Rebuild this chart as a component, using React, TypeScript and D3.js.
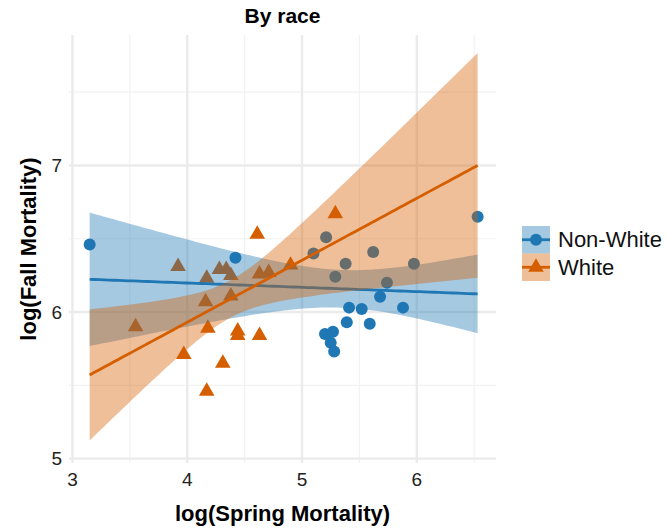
import React from 'react'
import * as d3 from 'd3'

// Non-White counties: log(spring mortality), log(fall mortality)
const nonWhiteSpring = [3.15, 4.42, 5.10, 5.21, 5.38, 5.29, 5.62, 5.74, 5.975, 6.53, 5.68, 5.41, 5.52, 5.88, 5.39, 5.59, 5.20, 5.27, 5.25, 5.28]
const nonWhiteFall = [6.46, 6.37, 6.40, 6.51, 6.33, 6.24, 6.41, 6.20, 6.33, 6.65, 6.105, 6.03, 6.02, 6.03, 5.93, 5.92, 5.85, 5.865, 5.79, 5.73]

// White counties
const whiteSpring = [3.92, 4.28, 4.34, 4.38, 4.17, 4.16, 4.38, 3.55, 4.18, 4.44, 4.44, 4.63, 3.97, 4.31, 4.17, 4.61, 4.63, 4.71, 4.90, 5.29]
const whiteFall = [6.31, 6.29, 6.29, 6.25, 6.23, 6.07, 6.11, 5.90, 5.89, 5.87, 5.84, 5.84, 5.71, 5.65, 5.46, 6.53, 6.26, 6.27, 6.32, 6.67]

const groups = ['Non-White', 'White']
const xTicks = [3, 4, 5, 6]
const yTicks = [5, 6, 7]
const xMinor = [3.5, 4.5, 5.5, 6.5]
const yMinor = [5.5, 6.5, 7.5]

const colors: Record<string, string> = { 'Non-White': '#1f77b4', White: '#d55e00' }

/**
 * LAYOUT
 */
const W = 666
const H = 528
const panel = { left: 69, right: 496, top: 35, bottom: 463 }
const font = 'Liberation Sans, Arial, Helvetica, sans-serif'
const ribbonAlpha = 0.4

type Pt = { x: number; y: number }

// two-sided 95% t quantile, Cornish-Fisher series (good enough for df ~ 18)
const tQuantile = (df: number) => {
  const z = 1.959964
  const z3 = z ** 3
  const z5 = z ** 5
  const z7 = z ** 7
  return z + (z3 + z) / (4 * df) + (5 * z5 + 16 * z3 + 3 * z) / (96 * df * df) +
    (3 * z7 + 19 * z5 + 17 * z3 - 15 * z) / (384 * df ** 3)
}

// lm fit with confidence band, like geom_smooth(method = 'lm', fullrange = TRUE)
const fitLm = (xs: number[], ys: number[], x0: number, x1: number) => {
  const n = xs.length
  const mx = d3.mean(xs) as number
  const my = d3.mean(ys) as number
  let sxx = 0
  let sxy = 0
  xs.forEach((x, i) => { sxx += (x - mx) ** 2; sxy += (x - mx) * (ys[i] - my) })
  const b = sxy / sxx
  const a = my - b * mx
  const rss = d3.sum(xs, (x, i) => (ys[i] - a - b * x) ** 2)
  const s = Math.sqrt(rss / (n - 2))
  const t = tQuantile(n - 2)
  return d3.range(81).map(i => {
    const x = x0 + (x1 - x0) * i / 80
    const y = a + b * x
    const se = s * Math.sqrt(1 / n + (x - mx) ** 2 / sxx)
    return { x, y, lo: y - t * se, hi: y + t * se }
  })
}

const App = () => {
  const xScale = d3.scaleLinear().domain([2.97, 6.69]).range([panel.left, panel.right])
  const yScale = d3.scaleLinear().domain([4.97, 7.89]).range([panel.bottom, panel.top])

  const allX = [...nonWhiteSpring, ...whiteSpring]
  const [x0, x1] = d3.extent(allX) as [number, number]

  const series: Record<string, Pt[]> = {
    'Non-White': nonWhiteSpring.map((x, i) => ({ x, y: nonWhiteFall[i] })),
    White: whiteSpring.map((x, i) => ({ x, y: whiteFall[i] }))
  }
  const fits: Record<string, ReturnType<typeof fitLm>> = {
    'Non-White': fitLm(nonWhiteSpring, nonWhiteFall, x0, x1),
    White: fitLm(whiteSpring, whiteFall, x0, x1)
  }

  const area = d3.area<{ x: number; lo: number; hi: number }>()
    .x(d => xScale(d.x)).y0(d => yScale(d.lo)).y1(d => yScale(d.hi))
  const line = d3.line<{ x: number; y: number }>().x(d => xScale(d.x)).y(d => yScale(d.y))
  const triangle = d3.symbol(d3.symbolTriangle, 105)()

  const marker = (g: string, cx: number, cy: number, key: string | number) => g === 'White'
    ? <path key={key} d={triangle as string} transform={`translate(${cx},${cy})`} fill={colors[g]} />
    : <circle key={key} cx={cx} cy={cy} r={6} fill={colors[g]} />

  return (
    <svg width={W} height={H} style={{ position: 'absolute', left: 0, top: 0 }} fontFamily={font}>
      <rect width={W} height={H} fill='white' />

      {/* grid */}
      <g>
        {xMinor.map(v => <line key={`xm${v}`} x1={xScale(v)} x2={xScale(v)} y1={panel.top} y2={panel.bottom} stroke='#f2f2f2' strokeWidth={1.2} />)}
        {yMinor.map(v => <line key={`ym${v}`} y1={yScale(v)} y2={yScale(v)} x1={panel.left} x2={panel.right} stroke='#f2f2f2' strokeWidth={1.2} />)}
        {xTicks.map(v => <line key={`x${v}`} x1={xScale(v)} x2={xScale(v)} y1={panel.top} y2={panel.bottom} stroke='#ebebeb' strokeWidth={2.4} />)}
        {yTicks.map(v => <line key={`y${v}`} y1={yScale(v)} y2={yScale(v)} x1={panel.left} x2={panel.right} stroke='#ebebeb' strokeWidth={2.4} />)}
      </g>

      {/* points */}
      <g>
        {groups.map(g => series[g].map((d, i) => marker(g, xScale(d.x), yScale(d.y), `${g}-${i}`)))}
      </g>

      {/* smooths: ribbon then line for each group */}
      {groups.map(g => (
        <g key={`fit-${g}`}>
          <path d={area(fits[g]) as string} fill={colors[g]} fillOpacity={ribbonAlpha} />
          <path d={line(fits[g]) as string} fill='none' stroke={colors[g]} strokeWidth={2.8} />
        </g>
      ))}

      {/* axes text */}
      {xTicks.map(v => (
        <text key={`xt${v}`} x={xScale(v)} y={486} textAnchor='middle' fontSize={19} fill='#222'>{v}</text>
      ))}
      {yTicks.map(v => (
        <text key={`yt${v}`} x={62} y={yScale(v)} dy='0.35em' textAnchor='end' fontSize={19} fill='#222'>{v}</text>
      ))}
      <text x={(panel.left + panel.right) / 2} y={23} textAnchor='middle' fontSize={21} fontWeight='bold'>By race</text>
      <text x={(panel.left + panel.right) / 2} y={521} textAnchor='middle' fontSize={22} fontWeight='bold'>log(Spring Mortality)</text>
      <text transform={`translate(36, ${(panel.top + panel.bottom) / 2}) rotate(-90)`} textAnchor='middle' fontSize={22} fontWeight='bold'>log(Fall Mortality)</text>

      {/* legend */}
      {groups.map((g, i) => {
        const top = 226 + i * 27.5
        return (
          <g key={`leg-${g}`}>
            <rect x={522} y={top} width={28} height={27.5} fill={colors[g]} fillOpacity={ribbonAlpha} />
            <line x1={522} x2={550} y1={top + 13.75} y2={top + 13.75} stroke={colors[g]} strokeWidth={2.8} />
            {marker(g, 536, top + 13.75, `lm-${g}`)}
            <text x={558} y={top + 21} fontSize={22} fill='#111'>{g}</text>
          </g>
        )
      })}
    </svg>
  )
}

export default App
